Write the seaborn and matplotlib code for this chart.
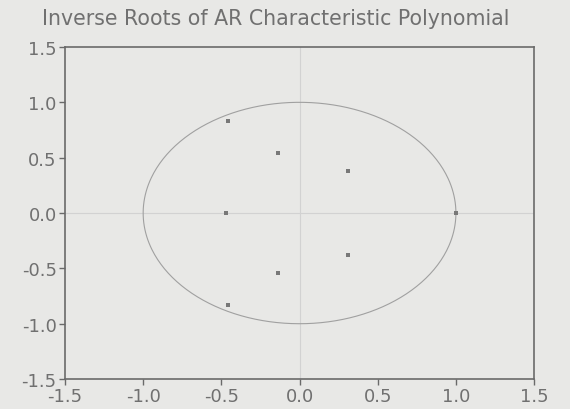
import numpy as np
import pandas as pd
import seaborn as sns
import matplotlib
matplotlib.use("Agg")
import matplotlib.pyplot as plt

# inverse roots (real, imaginary)
root_re = [-0.46, -0.14, 0.31, -0.47, 0.31, -0.14, -0.46, 1.00]
root_im = [0.83, 0.54, 0.38, 0.00, -0.38, -0.54, -0.83, 0.00]
ticks = [-1.5, -1.0, -0.5, 0.0, 0.5, 1.0, 1.5]
title = "Inverse Roots of AR Characteristic Polynomial"

roots = pd.DataFrame({"re": root_re, "im": root_im})

sns.set_theme(style="white")
plt.rcParams["font.family"] = ["DejaVu Sans"]

bg = "#e8e8e6"
fig = plt.figure(figsize=(5.7, 4.1), dpi=100, facecolor=bg)
ax = fig.add_axes([0.114, 0.073, 0.823, 0.81])
ax.set_facecolor(bg)

# zero lines
ax.axhline(0, color="#d2d2d2", lw=0.8, zorder=1)
ax.axvline(0, color="#d2d2d2", lw=0.8, zorder=1)

# unit circle
theta = np.linspace(0, 2 * np.pi, 400)
ax.plot(np.cos(theta), np.sin(theta), color="#a0a0a0", lw=0.8, zorder=2)

sns.scatterplot(data=roots, x="re", y="im", marker="s", s=9, color="#787878",
                edgecolor="none", ax=ax, zorder=3)

ax.set_xlim(-1.5, 1.5)
ax.set_ylim(-1.5, 1.5)
ax.set_xticks(ticks)
ax.set_yticks(ticks)
ax.set_xticklabels([f"{t:.1f}" for t in ticks])
ax.set_yticklabels([f"{t:.1f}" for t in ticks])
ax.set_xlabel("")
ax.set_ylabel("")
ax.tick_params(axis="both", which="both", direction="out", length=4, width=1,
               color="#6a6a6a", labelsize=13, labelcolor="#707070",
               bottom=True, left=True, pad=2)
for sp in ax.spines.values():
    sp.set_color("#6a6a6a")
    sp.set_linewidth(1.2)

fig.text(0.484, 0.953, title, fontsize=14.8, color="#707070",
         ha="center", va="center")

fig.savefig("out.png", dpi=100, facecolor=bg)
